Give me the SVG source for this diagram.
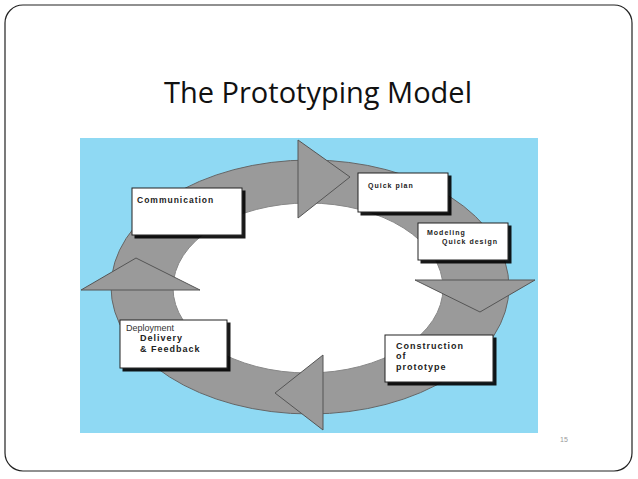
<svg xmlns="http://www.w3.org/2000/svg" width="638" height="479" viewBox="0 0 638 479">
<style>
.box{fill:#fff;stroke:#222;stroke-width:1;filter:url(#sh)}
.arr{fill:#9a9a9a;stroke:#555;stroke-width:1}
.t{font-family:"Liberation Sans",Arial,sans-serif;font-weight:bold;fill:#222;letter-spacing:1px}
</style>
<defs>
<filter id="sh" x="-10%" y="-10%" width="130%" height="130%"><feDropShadow dx="3" dy="3" stdDeviation="0.5" flood-color="#000" flood-opacity="0.9"/></filter>
</defs>
<rect x="5" y="5" width="627" height="466" rx="18" fill="#fff" stroke="#222" stroke-width="1.2"/>
<text x="318" y="103" text-anchor="middle" font-family="Open Sans,Liberation Sans,sans-serif" font-size="29" fill="#111">The Prototyping Model</text>
<rect x="80" y="138" width="458" height="295" fill="#8fd9f3"/>
<g id="cycle">
<ellipse cx="310" cy="287" rx="199" ry="127" fill="#9a9a9a" stroke="#666"/>
<ellipse cx="308" cy="288" rx="135" ry="85" fill="#fff" stroke="#888"/>
</g>
<g id="connectors">
<polygon class="arr" points="298,195 298,140 350,177 298,218"/>
<polygon class="arr" points="415,280 535,280 480,312"/>
<polygon class="arr" points="323,355 275,393 323,430"/>
<polygon class="arr" points="81,290 136,258 200,290"/>
</g>
<g id="communication"><rect class="box" x="132" y="188" width="110" height="47"/><text class="t" x="137" y="203" font-size="8.5">Communication</text></g>
<g id="quickplan"><rect class="box" x="358" y="173" width="90" height="39"/><text class="t" x="368" y="188" font-size="7">Quick plan</text></g>
<g id="modeling"><rect class="box" x="418" y="223" width="90" height="37"/><text class="t" x="427" y="235" font-size="7">Modeling</text><text class="t" x="442" y="244" font-size="7">Quick design</text></g>
<g id="construction"><rect class="box" x="385" y="335" width="108" height="47"/><text class="t" x="396" y="349" font-size="9">Construction</text><text class="t" x="396" y="359" font-size="9">of</text><text class="t" x="396" y="370" font-size="9">prototype</text></g>
<g id="deployment"><rect class="box" x="120" y="320" width="107" height="48"/><text x="126" y="331" font-family="Liberation Sans,Arial,sans-serif" font-size="9" fill="#333">Deployment</text><text class="t" x="140" y="341" font-size="9">Delivery</text><text class="t" x="140" y="352" font-size="9">&amp; Feedback</text></g>
<text x="560" y="442" font-family="Liberation Sans,sans-serif" font-size="7" fill="#999">15</text>
</svg>
